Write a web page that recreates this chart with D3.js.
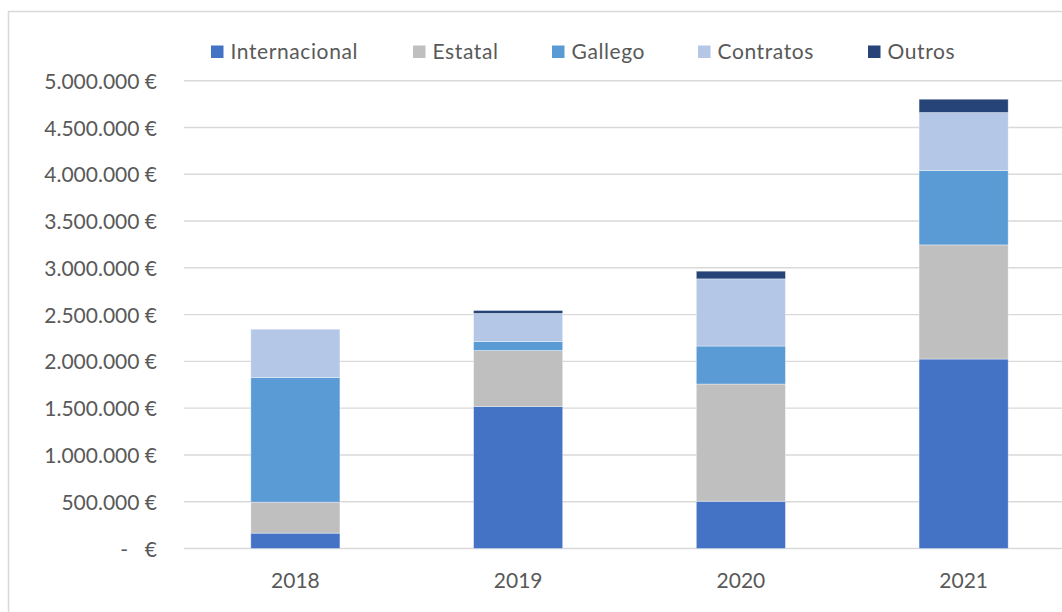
<!DOCTYPE html>
<html>
<head>
<meta charset="utf-8">
<script src="https://cdn.jsdelivr.net/npm/d3@7"></script>
<style>
  html, body { margin: 0; padding: 0; background: #fff; }
  svg { display: block; }
  text { font-family: Lato, "Open Sans", sans-serif; fill: #595959; }
</style>
</head>
<body>
<svg id="chart" width="1062" height="612"></svg>
<script>
const years = ["2018", "2019", "2020", "2021"];
const seriesNames = ["Internacional", "Estatal", "Gallego", "Contratos", "Outros"];
const internacional = [164000, 1518000, 505000, 2025000];
const estatal = [331000, 598000, 1253000, 1220000];
const gallego = [1333000, 96000, 406000, 795000];
const contratos = [516000, 300000, 718000, 620000];
const outros = [0, 32000, 82000, 142000];
const colors = ["#4472C4", "#BFBFBF", "#5B9BD5", "#B4C7E7", "#264478"];
const yTicks = [0, 500000, 1000000, 1500000, 2000000, 2500000, 3000000, 3500000, 4000000, 4500000, 5000000];

const seriesValues = [internacional, estatal, gallego, contratos, outros];
const rows = years.map((y, i) => {
  const r = { year: y };
  seriesNames.forEach((s, k) => r[s] = seriesValues[k][i]);
  return r;
});

const svg = d3.select("#chart");

// chart border
svg.append("path")
  .attr("d", "M8.5,620 L8.5,11.5 L1070,11.5")
  .attr("fill", "none").attr("stroke", "#d9d9d9").attr("stroke-width", 1.5);

const x = d3.scaleBand().domain(years).range([184, 1075]).paddingInner(0.6).paddingOuter(0.3);
const y = d3.scaleLinear().domain([0, 5000000]).range([548.5, 80.7]);

// gridlines
svg.append("g").selectAll("line").data(yTicks).join("line")
  .attr("x1", 184).attr("x2", 1075)
  .attr("y1", d => y(d)).attr("y2", d => y(d))
  .attr("stroke", "#d9d9d9").attr("stroke-width", 1.4);

// y-axis labels
const fmt = d => d3.format(",.0f")(d).replace(/,/g, ".");
const yAxis = d3.axisLeft(y).tickValues(yTicks).tickSize(0).tickPadding(0)
  .tickFormat(d => d === 0 ? "" : fmt(d) + " €");
const gy = svg.append("g").attr("transform", "translate(157,0)").call(yAxis);
gy.select(".domain").remove();
gy.selectAll("text").attr("font-size", 21).attr("fill", "#595959")
  .style("font-family", "Lato, sans-serif").attr("dy", "0.36em");
// zero label in accounting style
gy.selectAll(".tick").filter(d => d === 0).each(function() {
  const t = d3.select(this);
  t.append("text").attr("x", -29).attr("dy", "0.36em").attr("text-anchor", "end")
    .attr("font-size", 21).attr("fill", "#595959").style("font-family", "Lato, sans-serif").text("-");
  t.append("text").attr("x", 0).attr("dy", "0.36em").attr("text-anchor", "end")
    .attr("font-size", 21).attr("fill", "#595959").style("font-family", "Lato, sans-serif").text("€");
});

// stacked bars
const stack = d3.stack().keys(seriesNames)(rows);
svg.append("g").selectAll("g").data(stack).join("g")
  .attr("fill", (d, i) => colors[i])
  .selectAll("rect").data(d => d).join("rect")
  .attr("x", d => x(d.data.year))
  .attr("width", x.bandwidth())
  .attr("y", d => y(d[1]))
  .attr("height", d => Math.max(0, y(d[0]) - y(d[1])))
  .attr("stroke", "#ffffff").attr("stroke-opacity", 0.45).attr("stroke-width", 0.8);

// x-axis labels
const xAxis = d3.axisBottom(x).tickSize(0).tickPadding(0);
const gx = svg.append("g").attr("transform", "translate(0,588)").call(xAxis);
gx.select(".domain").remove();
gx.selectAll("text").attr("font-size", 21).attr("fill", "#595959")
  .style("font-family", "Lato, sans-serif").attr("dy", 0).attr("y", 0);

// legend
const legendX = [211, 413, 552, 698, 868];
const lg = svg.append("g").selectAll("g").data(seriesNames).join("g")
  .attr("transform", (d, i) => `translate(${legendX[i]},0)`);
lg.append("rect").attr("x", 0).attr("y", 45.5).attr("width", 12.5).attr("height", 12.5)
  .attr("fill", (d, i) => colors[i]);
lg.append("text").attr("x", 19.5).attr("y", 58.5).attr("font-size", 21)
  .attr("letter-spacing", 0.6).text(d => d);
</script>
</body>
</html>
